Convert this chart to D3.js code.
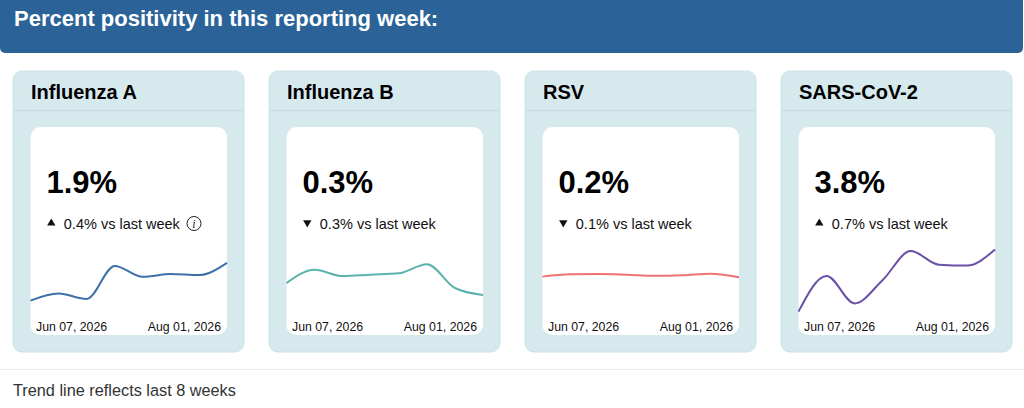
<!DOCTYPE html>
<html>
<head>
<meta charset="utf-8">
<script src="https://cdn.jsdelivr.net/npm/d3@7"></script>
<style>
  html, body { margin: 0; padding: 0; background: #fff; }
  svg { display: block; font-family: "Liberation Sans", Arial, Helvetica, sans-serif; }
</style>
</head>
<body>
<svg id="panel" width="1024" height="408"></svg>
<script>
// data
const pathogens = ["Influenza A", "Influenza B", "RSV", "SARS-CoV-2"];
const currentPct = [1.9, 0.3, 0.2, 3.8];
const changePct = [0.4, -0.3, -0.1, 0.7];
const weekStarts = ["2026-06-07", "2026-06-14", "2026-06-21", "2026-06-28",
                    "2026-07-05", "2026-07-12", "2026-07-19", "2026-07-26"];
const fluA = [0.55, 0.8, 0.61, 1.79, 1.4, 1.5, 1.46, 1.9];
const fluB = [0.47, 0.66, 0.57, 0.59, 0.61, 0.74, 0.4, 0.3];
const rsv = [0.225, 0.238, 0.24, 0.236, 0.23, 0.233, 0.242, 0.221];
const sarsCov2 = [0.25, 2.29, 0.72, 2.06, 3.71, 2.93, 2.88, 3.8];
const yMax = [2.5, 1, 0.4, 4];
const infoIcon = [true, false, false, false];

const series = [fluA, fluB, rsv, sarsCov2];
const lineColors = ["#3d70a7", "#5cb3ad", "#f07171", "#6b50a8"];

const svg = d3.select("#panel");
const parseDay = d3.timeParse("%Y-%m-%d");
const fmtDay = d3.timeFormat("%b %d, %Y");

// banner
svg.append("rect")
    .attr("x", 0).attr("y", -10)
    .attr("width", 1023).attr("height", 63)
    .attr("rx", 5)
    .attr("fill", "#2b6399");
svg.append("text")
    .attr("x", 14).attr("y", 26)
    .attr("fill", "#fff")
    .attr("font-size", 22).attr("font-weight", "bold")
    .text("Percent positivity in this reporting week:");

const cardW = 231, cardH = 281, cardTop = 71, cardStep = 256;
const padX = 17.5, innerTop = 127, innerW = 196.5, innerH = 208;

const x = d3.scalePoint().domain(weekStarts).range([0, innerW]);

const cards = svg.selectAll("g.card")
    .data(pathogens)
    .enter()
    .append("g")
    .attr("class", "card")
    .attr("transform", (d, i) => `translate(${13 + i * cardStep},0)`);

cards.append("rect")
    .attr("y", cardTop)
    .attr("width", cardW).attr("height", cardH)
    .attr("rx", 9)
    .attr("fill", "#d6eaee")
    .attr("stroke", "#cde3e8");

cards.append("line")
    .attr("x1", 1).attr("x2", cardW - 1)
    .attr("y1", 110.5).attr("y2", 110.5)
    .attr("stroke", "#c4dce1");

cards.append("text")
    .attr("x", 18).attr("y", 99)
    .attr("font-size", 20).attr("font-weight", "bold")
    .attr("fill", "#000")
    .text(d => d);

const inner = cards.append("g")
    .attr("transform", `translate(${padX},0)`);

inner.append("rect")
    .attr("y", innerTop)
    .attr("width", innerW).attr("height", innerH)
    .attr("rx", 10)
    .attr("fill", "#fff");

inner.append("text")
    .attr("x", 16).attr("y", 193)
    .attr("font-size", 31).attr("font-weight", "bold")
    .attr("fill", "#000")
    .text((d, i) => currentPct[i].toFixed(1) + "%");

inner.append("path")
    .attr("d", d3.symbol(d3.symbolTriangle, 30))
    .attr("transform", (d, i) => `translate(20.8,${changePct[i] >= 0 ? 223.2 : 222.6}) rotate(${changePct[i] >= 0 ? 0 : 180})`)
    .attr("fill", "#111");

inner.append("text")
    .attr("x", 33.3).attr("y", 228.5)
    .attr("font-size", 14.5)
    .attr("fill", "#111")
    .text((d, i) => Math.abs(changePct[i]).toFixed(1) + "% vs last week");

const info = inner.filter((d, i) => infoIcon[i]);
info.append("circle")
    .attr("cx", 163.5).attr("cy", 223.5).attr("r", 7)
    .attr("fill", "none")
    .attr("stroke", "#222").attr("stroke-width", 1);
info.append("text")
    .attr("x", 163.5).attr("y", 228)
    .attr("text-anchor", "middle")
    .attr("font-family", "'Liberation Serif', serif")
    .attr("font-style", "italic")
    .attr("font-size", 12)
    .attr("fill", "#222")
    .text("i");

// trend lines
inner.each(function(d, i) {
    const y = d3.scaleLinear().domain([0, yMax[i]]).range([316, 246]);
    const line = d3.line()
        .x((v, j) => x(weekStarts[j]))
        .y(v => y(v))
        .curve(d3.curveMonotoneX);
    d3.select(this).append("path")
        .datum(series[i])
        .attr("d", line)
        .attr("fill", "none")
        .attr("stroke", lineColors[i])
        .attr("stroke-width", 2);
});

const firstDay = parseDay(weekStarts[0]);
const lastDay = d3.timeDay.offset(parseDay(weekStarts[weekStarts.length - 1]), 6);

inner.append("text")
    .attr("x", 5.5).attr("y", 330.5)
    .attr("font-size", 12.3)
    .attr("fill", "#111")
    .text(fmtDay(firstDay));

inner.append("text")
    .attr("x", innerW - 6).attr("y", 330.5)
    .attr("text-anchor", "end")
    .attr("font-size", 12.3)
    .attr("fill", "#111")
    .text(fmtDay(lastDay));

// footer
svg.append("line")
    .attr("x1", 0).attr("x2", 1024)
    .attr("y1", 369.5).attr("y2", 369.5)
    .attr("stroke", "#ececec");
svg.append("text")
    .attr("x", 13).attr("y", 395.5)
    .attr("font-size", 16.3)
    .attr("fill", "#333")
    .text("Trend line reflects last 8 weeks");
</script>
</body>
</html>
